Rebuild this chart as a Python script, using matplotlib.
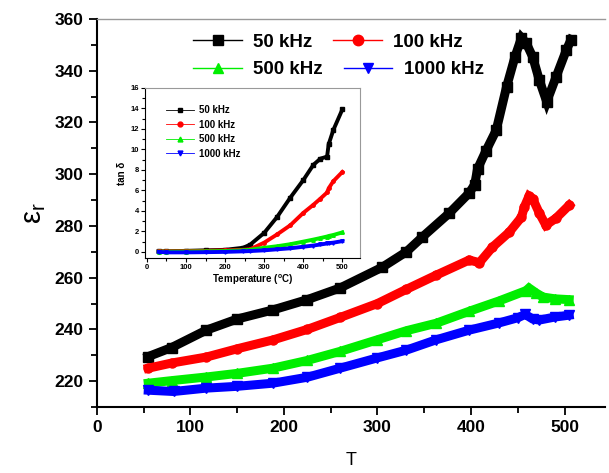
import matplotlib
matplotlib.use('Agg')
import matplotlib.pyplot as plt
from matplotlib.lines import Line2D
from matplotlib.ticker import MultipleLocator

plt.rcParams['font.family'] = ['Liberation Sans', 'DejaVu Sans']

# main plot: dielectric constant vs temperature
T50 = [55, 80, 117, 150, 188, 225, 260, 305, 331, 348, 377, 398, 404, 407, 416, 427, 438, 447, 454, 459, 466, 473, 481, 491, 502, 507]
eps50 = [229.5, 233, 239.7, 244, 247.5, 251.5, 256, 264, 270, 275.7, 285, 292.7, 296, 302, 309, 317, 333.7, 345.3, 352.7, 350.7, 345.3, 336.4, 328, 337.6, 348, 352]

T100 = [55, 80, 117, 150, 188, 225, 260, 300, 331, 363, 398, 409, 423, 441, 454, 457, 462, 466, 473, 480, 491, 505]
eps100 = [225, 227, 229.3, 232.5, 235.9, 240, 244.6, 250, 255.5, 261, 266.8, 265.8, 271.8, 277.6, 283.4, 287.3, 291.5, 290.5, 285, 280.3, 283, 288]

T500 = [55, 80, 117, 150, 188, 225, 260, 300, 331, 363, 398, 430, 459, 462, 470, 477, 490, 505]
eps500 = [219.2, 220.2, 221.6, 223, 225, 228, 231.5, 236, 239.5, 242.4, 247, 251, 255, 256, 254, 252.5, 251.8, 251.5]

T1000 = [55, 82, 117, 150, 188, 225, 260, 300, 331, 363, 398, 430, 450, 458, 466, 473, 490, 505]
eps1000 = [216.5, 216, 217.3, 218, 219.2, 221.5, 225, 229, 232, 236, 239.7, 242.5, 244.5, 245.8, 244, 243.6, 244.8, 245.5]

# inset: tan delta vs temperature
Tt = [30, 50, 100, 150, 200, 246, 264, 300, 333, 367, 400, 426, 444, 461, 465, 477, 500]
tan50 = [0.05, 0.05, 0.1, 0.15, 0.2, 0.4, 0.7, 1.85, 3.4, 5.3, 7.0, 8.5, 9.1, 9.3, 10.5, 11.9, 13.9]
tan100 = [0.05, 0.05, 0.08, 0.1, 0.15, 0.2, 0.25, 0.9, 1.7, 2.6, 3.8, 4.6, 5.2, 5.8, 6.2, 6.9, 7.8]
tan500 = [0.02, 0.02, 0.03, 0.05, 0.08, 0.15, 0.2, 0.4, 0.55, 0.75, 1.0, 1.2, 1.35, 1.5, 1.55, 1.65, 1.9]
tan1000 = [0.0, -0.05, -0.05, -0.03, 0.0, 0.05, 0.08, 0.15, 0.25, 0.35, 0.5, 0.62, 0.72, 0.82, 0.85, 0.9, 1.05]

labels = ['50 kHz', '100 kHz', '500 kHz', '1000 kHz']
colors = ['black', '#ff0000', '#00ee00', '#0000ff']
markers = ['s', 'o', '^', 'v']

fig = plt.figure(figsize=(6.09, 4.73), dpi=100)
ax = fig.add_axes([0.159, 0.1395, 0.834, 0.8205])

main = [(T50, eps50), (T100, eps100), (T500, eps500), (T1000, eps1000)]
for (x, y), c, m in zip(main, colors, markers):
    ax.plot(x, y, color=c, lw=6.5, marker=m, ms=6.5, solid_joinstyle='miter')

ax.set_xlim(0, 543)
ax.set_ylim(210, 360)
ax.xaxis.set_major_locator(MultipleLocator(100))
ax.xaxis.set_minor_locator(MultipleLocator(50))
ax.yaxis.set_major_locator(MultipleLocator(20))
ax.yaxis.set_minor_locator(MultipleLocator(10))
ax.tick_params(which='both', direction='out', width=1.3)
ax.tick_params(which='major', length=6, labelsize=12.5)
ax.tick_params(which='minor', length=4)
for lab in ax.get_xticklabels() + ax.get_yticklabels():
    lab.set_fontweight('bold')
for s in ['left', 'bottom']:
    ax.spines[s].set_linewidth(1.5)
ax.spines['top'].set_color('#999999')
ax.spines['top'].set_linewidth(1)
ax.spines['right'].set_visible(False)
ax.set_xlabel('T', fontsize=13, labelpad=12)
ax.set_ylabel('ε$_\\mathregular{r}$', fontsize=21, labelpad=5)

handles = [Line2D([], [], color=c, marker=m, ms=7.5, lw=1) for c, m in zip(colors, markers)]
leg1 = ax.legend(handles[:2], labels[:2], ncol=2, frameon=False, loc='center left',
                 bbox_to_anchor=(0.19, 0.94), borderpad=0, borderaxespad=0,
                 handlelength=2.6, handletextpad=0.6, columnspacing=1.1,
                 prop={'size': 13.5, 'weight': 'bold'})
ax.add_artist(leg1)
ax.legend(handles[2:], labels[2:], ncol=2, frameon=False, loc='center left',
          bbox_to_anchor=(0.19, 0.869), borderpad=0, borderaxespad=0,
          handlelength=2.6, handletextpad=0.6, columnspacing=1.1,
          prop={'size': 13.5, 'weight': 'bold'})

# inset
ins = fig.add_axes([0.238, 0.4545, 0.353, 0.3595])
inset = [tan50, tan100, tan500, tan1000]
for y, c, m, lab in zip(inset, colors, markers, labels):
    ins.plot(Tt, y, color=c, lw=2.8, marker=m, ms=2.5, label=lab)
ins.set_xlim(-5, 545)
ins.set_ylim(-0.6, 16)
ins.xaxis.set_major_locator(MultipleLocator(100))
ins.xaxis.set_minor_locator(MultipleLocator(50))
ins.yaxis.set_major_locator(MultipleLocator(2))
ins.yaxis.set_minor_locator(MultipleLocator(1))
ins.tick_params(which='both', direction='out', width=0.8)
ins.tick_params(which='major', length=3, labelsize=5.5, pad=1.5)
ins.tick_params(which='minor', length=2)
for lab in ins.get_xticklabels() + ins.get_yticklabels():
    lab.set_fontweight('bold')
for s in ['top', 'right']:
    ins.spines[s].set_color('#999999')
ins.set_xlabel('Temperature ($^\\mathregular{o}$C)', fontsize=7, fontweight='bold', labelpad=1)
ins.set_ylabel('tan δ', fontsize=7, fontweight='bold', labelpad=2)
ins_handles = [Line2D([], [], color=c, marker=m, ms=3.5, lw=0.6) for c, m in zip(colors, markers)]
ins.legend(ins_handles, labels, frameon=False, loc='center left',
           bbox_to_anchor=(0.1, 0.741), borderpad=0, borderaxespad=0,
           handlelength=2.8, handletextpad=0.5, labelspacing=0.45,
           prop={'size': 7, 'weight': 'bold'})

fig.savefig('out.png', dpi=100)
